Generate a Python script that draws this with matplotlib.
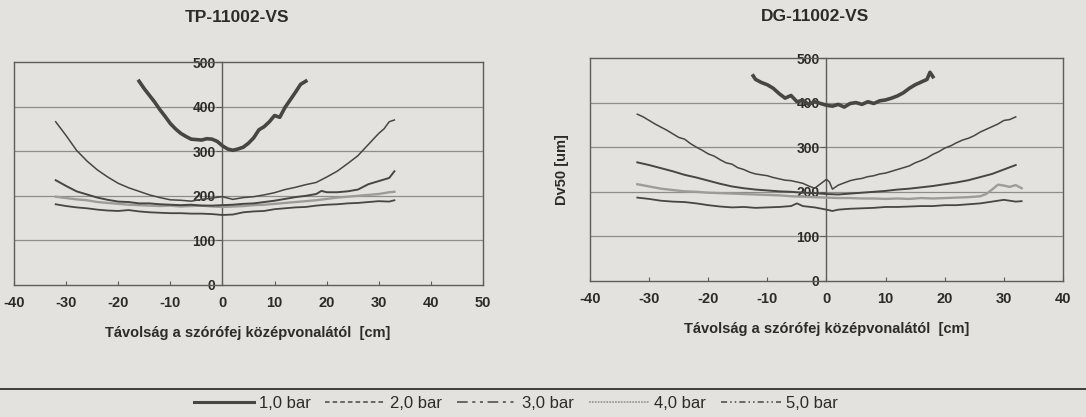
import matplotlib
matplotlib.use("Agg")
import matplotlib.pyplot as plt
from matplotlib.lines import Line2D

plt.rcParams['font.family'] = ['Liberation Sans', 'DejaVu Sans']

# ---------------- data: TP-11002-VS ----------------
tp_x_10 = [-16, -15, -14, -13, -12, -11, -10, -9, -8, -7, -6, -5, -4, -3, -2, -1, 0, 1, 2, 3, 4, 5, 6, 7, 8, 9, 10, 11, 12, 13, 14, 15, 16]
tp_y_10 = [457, 440, 425, 410, 393, 378, 362, 350, 340, 333, 327, 326, 325, 328, 327, 322, 312, 305, 302, 305, 309, 318, 330, 348, 355, 366, 380, 376, 398, 415, 432, 450, 457]

tp_x_20 = [-32, -30, -28, -26, -24, -22, -20, -18, -16, -14, -12, -10, -8, -6, -4, -2, 0, 2, 4, 6, 8, 10, 12, 14, 16, 18, 20, 22, 24, 26, 28, 30, 31, 32, 33]
tp_y_20 = [366, 335, 302, 278, 258, 242, 228, 218, 210, 202, 196, 191, 190, 188, 192, 195, 198, 192, 196, 198, 202, 207, 214, 219, 225, 230, 242, 255, 272, 290, 315, 340, 350, 366, 370]

tp_x_30 = [-32, -30, -28, -26, -24, -22, -20, -18, -16, -14, -12, -10, -8, -6, -4, -2, 0, 2, 4, 6, 8, 10, 12, 14, 16, 18, 19, 20, 22, 24, 26, 28, 30, 32, 33]
tp_y_30 = [235, 222, 210, 203, 196, 191, 187, 186, 183, 183, 181, 180, 179, 180, 178, 178, 179, 180, 182, 183, 186, 189, 193, 197, 200, 204, 211, 208, 208, 210, 214, 226, 233, 240, 255]

tp_x_40 = [-32, -30, -28, -26, -24, -22, -20, -18, -16, -14, -12, -10, -8, -6, -4, -2, 0, 2, 4, 6, 8, 10, 12, 14, 16, 18, 20, 22, 24, 26, 28, 30, 32, 33]
tp_y_40 = [198, 195, 192, 190, 186, 184, 182, 180, 179, 178, 177, 178, 176, 177, 178, 176, 175, 176, 177, 179, 180, 182, 184, 186, 188, 190, 193, 196, 198, 200, 202, 204, 208, 209]

tp_x_50 = [-32, -30, -28, -26, -24, -22, -20, -18, -16, -14, -12, -10, -8, -6, -4, -2, 0, 2, 4, 6, 8, 10, 12, 14, 16, 18, 20, 22, 24, 26, 28, 30, 32, 33]
tp_y_50 = [181, 177, 174, 172, 169, 167, 166, 168, 165, 163, 162, 161, 161, 160, 160, 159, 157, 158, 163, 165, 166, 170, 172, 174, 175, 178, 180, 181, 183, 184, 186, 188, 187, 190]

# ---------------- data: DG-11002-VS ----------------
dg_x_10 = [-12.4, -12, -11, -10, -9, -8, -7, -6, -5, -4, -3, -2, -1, 0, 1, 2, 3, 4, 5, 6, 7, 8, 9, 10, 11, 12, 13, 14, 15, 16, 17, 17.5, 18]
dg_y_10 = [460, 452, 445, 440, 432, 420, 410, 416, 402, 405, 396, 402, 398, 394, 392, 396, 390, 398, 400, 396, 402, 398, 404, 406, 410, 415, 422, 432, 440, 446, 452, 468, 458]

dg_x_20 = [-32, -31, -30, -29, -28, -27, -26, -25, -24, -23, -22, -21, -20, -19, -18, -17, -16, -15, -14, -13, -12, -11, -10, -9, -8, -7, -6, -5, -4, -3, -2, -1, 0, 0.5, 1, 2, 3, 4, 5, 6, 7, 8, 9, 10, 11, 12, 13, 14, 15, 16, 17, 18, 19, 20, 21, 22, 23, 24, 25, 26, 27, 28, 29, 30, 31, 32]
dg_y_20 = [374, 368, 360, 352, 345, 338, 330, 322, 318, 308, 300, 293, 285, 280, 272, 265, 262, 254, 250, 244, 240, 238, 236, 232, 229, 226, 225, 222, 219, 213, 208, 218, 228, 222, 206, 215, 220, 225, 228, 230, 234, 236, 240, 242, 246, 250, 254, 258, 265, 270, 276, 284, 290, 298, 303, 310, 316, 320, 326, 334, 340, 346, 352, 360, 362, 368]

dg_x_30 = [-32, -30, -28, -26, -24, -22, -20, -18, -16, -14, -12, -10, -8, -6, -4, -2, 0, 2, 4, 6, 8, 10, 12, 14, 16, 18, 20, 22, 24, 26, 28, 30, 32]
dg_y_30 = [266, 260, 253, 246, 238, 232, 225, 218, 212, 208, 205, 203, 201, 200, 198, 197, 195, 194, 196, 198, 200, 202, 205, 207, 210, 213, 217, 221, 226, 233, 240, 250, 260]

dg_x_40 = [-32, -30, -28, -26, -24, -22, -20, -18, -16, -14, -12, -10, -8, -6, -4, -2, 0, 2, 4, 6, 8, 10, 12, 14, 16, 18, 20, 22, 24, 26, 27, 28, 29, 30, 31, 32, 33]
dg_y_40 = [217, 212, 207, 204, 201, 200, 198, 197, 196, 195, 194, 193, 192, 190, 189, 188, 187, 186, 186, 185, 185, 184, 185, 184, 186, 185, 186, 187, 188, 190, 195, 205, 216, 214, 211, 215, 208]

dg_x_50 = [-32, -30, -28, -26, -24, -22, -20, -18, -16, -14, -12, -10, -8, -6, -5, -4, -2, 0, 1, 2, 4, 6, 8, 10, 12, 14, 16, 18, 20, 22, 24, 26, 28, 30, 31, 32, 33]
dg_y_50 = [187, 184, 180, 178, 177, 174, 170, 167, 165, 166, 164, 165, 166, 168, 174, 168, 165, 160, 157, 160, 162, 163, 164, 166, 166, 167, 168, 168, 170, 170, 172, 174, 178, 182, 180, 178, 179]

legend_labels = ["1,0 bar", "2,0 bar", "3,0 bar", "4,0 bar", "5,0 bar"]
titles = ["TP-11002-VS", "DG-11002-VS"]
xlabel = "Távolság a szórófej középvonalától  [cm]"
ylabel = "Dv50 [um]"
yticks = [0, 100, 200, 300, 400, 500]

paper = '#e3e2de'
dark = '#474644'
light = '#9d9c98'
frame_c = '#5e5d5a'
grid_c = '#8e8d89'
text_c = '#2c2b29'

fig = plt.figure(figsize=(10.86, 4.17), dpi=100, facecolor=paper)

def style_axes(ax, xmin, xmax, xticks, title, title_x, title_y, xlab_x):
    ax.set_facecolor(paper)
    ax.set_xlim(xmin, xmax)
    ax.set_ylim(0, 500)
    ax.set_xticks(xticks)
    ax.set_xticklabels([str(t) for t in xticks])
    ax.set_yticks(yticks)
    ax.spines['left'].set_position(('data', 0))
    for s in ax.spines.values():
        s.set_color(frame_c)
        s.set_linewidth(1.0)
    ax.axvline(xmin, color=frame_c, lw=1.0, clip_on=False, zorder=3)
    for g in [100, 200, 300, 400]:
        ax.axhline(g, color=grid_c, lw=0.9, zorder=1)
    ax.tick_params(axis='x', direction='in', length=3, pad=8, labelsize=10.5,
                   color=frame_c, labelcolor=text_c)
    ax.tick_params(axis='y', direction='out', length=4, pad=1.0, labelsize=10,
                   color=frame_c, labelcolor=text_c)
    for lab in ax.get_xticklabels() + ax.get_yticklabels():
        lab.set_fontweight('bold')
    ax.text(title_x, title_y, title, transform=ax.transAxes, ha='center', va='center',
            fontsize=12.5, fontweight='bold', color=text_c)
    ax.set_xlabel(xlabel, fontsize=10.5, fontweight='bold', color=text_c)
    ax.xaxis.set_label_coords(xlab_x, -0.185)

def plot_series(ax, data):
    (x1, y1), (x2, y2), (x3, y3), (x4, y4), (x5, y5) = data
    ax.plot(x4, y4, color=light, lw=1.7, zorder=4)
    ax.plot(x5, y5, color=dark, lw=1.3, zorder=5)
    ax.plot(x3, y3, color=dark, lw=1.4, zorder=5)
    ax.plot(x2, y2, color=dark, lw=1.1, zorder=5)
    ax.plot(x1, y1, color=dark, lw=2.6, zorder=6)

ax1 = fig.add_axes([14/1086, 1-285/417, 469/1086, 223/417])
style_axes(ax1, -40, 50, list(range(-40, 51, 10)), titles[0], 0.475, 1.20, 0.499)
plot_series(ax1, [(tp_x_10, tp_y_10), (tp_x_20, tp_y_20), (tp_x_30, tp_y_30),
                  (tp_x_40, tp_y_40), (tp_x_50, tp_y_50)])

ax2 = fig.add_axes([590/1086, 1-281/417, 473/1086, 223/417])
style_axes(ax2, -40, 40, list(range(-40, 41, 10)), titles[1], 0.476, 1.185, 0.501)
plot_series(ax2, [(dg_x_10, dg_y_10), (dg_x_20, dg_y_20), (dg_x_30, dg_y_30),
                  (dg_x_40, dg_y_40), (dg_x_50, dg_y_50)])
ax2.set_ylabel(ylabel, fontsize=10.5, fontweight='bold', color=text_c)
ax2.yaxis.set_label_coords(-0.045, 0.5)

# separator rule above legend
fig.add_artist(Line2D([0, 1], [1-389/417, 1-389/417], transform=fig.transFigure,
                      color='#3e3d3b', lw=1.4))

handles = [
    Line2D([], [], color=dark, lw=2.2),
    Line2D([], [], color=dark, lw=1.1, dashes=(3, 2)),
    Line2D([], [], color=dark, lw=1.1, dashes=(7, 3, 2, 3, 2, 3)),
    Line2D([], [], color=light, lw=1.3, dashes=(1, 0.6)),
    Line2D([], [], color=dark, lw=1.1, dashes=(4, 2, 1, 2, 1, 2)),
]
fig.legend(handles, legend_labels, loc='center', bbox_to_anchor=(0.475, 1-403/417),
           ncol=5, frameon=False, fontsize=12, handlelength=3.6, handletextpad=0.3,
           columnspacing=0.9, labelcolor=text_c)

fig.savefig("out.png", dpi=100, facecolor=paper)
